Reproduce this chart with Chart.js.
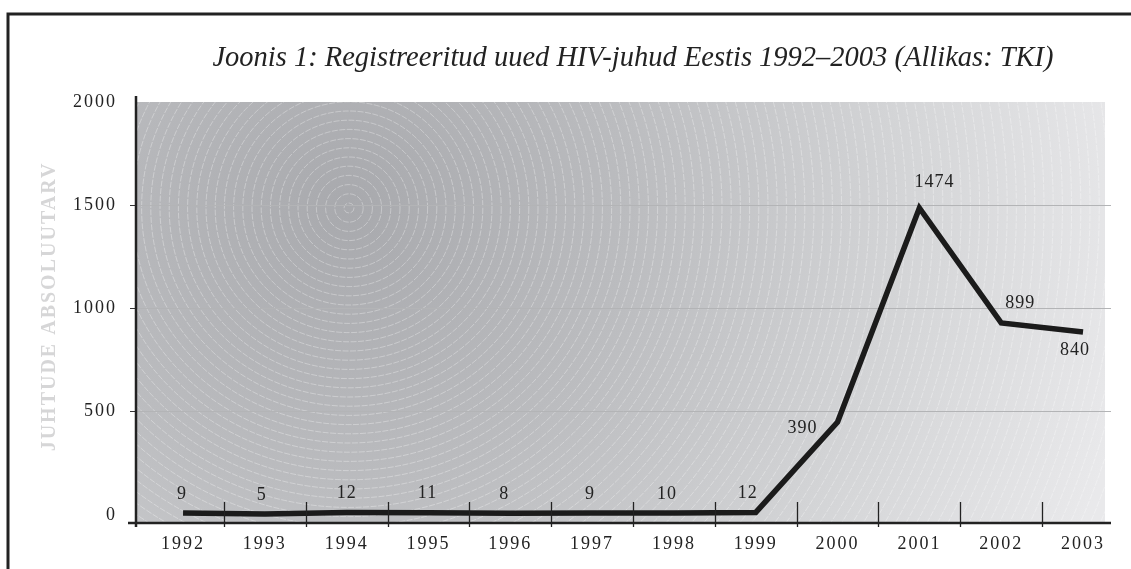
<!DOCTYPE html>
<html>
<head>
<meta charset="utf-8">
<script src="https://cdn.jsdelivr.net/npm/chart.js@4.4.1/dist/chart.umd.min.js"></script>
<style>
  html, body { margin: 0; padding: 0; background: #fff; }
  #wrap { width: 1131px; height: 569px; position: relative; }
</style>
</head>
<body>
<div id="wrap"><canvas id="hiv"></canvas></div>
<script>
const years = [1992, 1993, 1994, 1995, 1996, 1997, 1998, 1999, 2000, 2001, 2002, 2003]
// values as the line is drawn in the figure
const lineValues = [9, 5, 12, 11, 8, 9, 10, 12, 450, 1487, 930, 886]
// numbers printed next to the line
const printedValues = ['9', '5', '12', '11', '8', '9', '10', '12', '390', '1474', '899', '840']
const yTicks = [0, 500, 1000, 1500, 2000]

const titleText = 'Joonis 1: Registreeritud uued HIV-juhud Eestis 1992–2003 (Allikas: TKI)'
const yTitleText = 'JUHTUDE ABSOLUUTARV'

// label placement relative to the point, px
const labelOffsets = [
  [-1, -19], [-3, -19], [0, -19], [-1, -19], [-6, -19], [-2, -19],
  [-7, -19], [-8, -19], [-35, 6], [15, -26], [19, -20], [-8, 18]
]

const SERIF = '"Liberation Serif", "Times New Roman", serif'
const INK = '#222'

const backdrop = {
  id: 'backdrop',
  beforeDraw (chart) {
    const { ctx, chartArea: a } = chart
    ctx.save()
    ctx.fillStyle = '#fff'
    ctx.fillRect(0, 0, chart.width, chart.height)
    const cx = a.left + 213
    const cy = a.top + 106
    const g = ctx.createRadialGradient(cx, cy, 0, cx, cy, 800)
    g.addColorStop(0, '#a8a9ad')
    g.addColorStop(0.35, '#bbbcbf')
    g.addColorStop(0.7, '#d4d5d7')
    g.addColorStop(1, '#e9e9eb')
    ctx.fillStyle = g
    ctx.beginPath()
    ctx.rect(a.left, a.top, a.right - 6 - a.left, a.bottom - a.top)
    ctx.fill()
    ctx.clip()
    ctx.strokeStyle = 'rgba(255,255,255,0.4)'
    ctx.lineWidth = 0.8
    ctx.setLineDash([6, 1.5])
    for (let r = 5; r < 1000; r += 9.2) {
      ctx.beginPath()
      ctx.arc(cx, cy, r, 0, Math.PI * 2)
      ctx.stroke()
    }
    ctx.restore()
    ctx.letterSpacing = '2px'
  },
  afterDatasetsDraw (chart) {
    const { ctx } = chart
    const x = chart.scales.x
    const y = chart.scales.y
    ctx.save()
    ctx.letterSpacing = '1px'
    ctx.font = '18px ' + SERIF
    ctx.fillStyle = INK
    ctx.textAlign = 'center'
    ctx.textBaseline = 'middle'
    years.forEach((yr, i) => {
      const px = x.getPixelForValue(yr) + labelOffsets[i][0]
      const py = y.getPixelForValue(lineValues[i]) + labelOffsets[i][1]
      ctx.fillText(printedValues[i], px, py)
    })
    ctx.restore()
  },
  afterDraw (chart) {
    const { ctx, chartArea: a } = chart
    const x = chart.scales.x
    ctx.save()
    ctx.letterSpacing = '0px'
    ctx.strokeStyle = INK
    // axes
    ctx.lineWidth = 2.5
    ctx.beginPath()
    ctx.moveTo(a.left, a.top - 6)
    ctx.lineTo(a.left, a.bottom + 4)
    ctx.moveTo(a.left - 8, a.bottom)
    ctx.lineTo(a.right, a.bottom)
    ctx.stroke()
    // category separators
    ctx.lineWidth = 1.3
    ctx.beginPath()
    years.slice(0, -1).forEach((yr) => {
      const px = Math.round(x.getPixelForValue(yr + 0.5)) + 0.5
      ctx.moveTo(px, a.bottom - 21)
      ctx.lineTo(px, a.bottom + 4)
    })
    ctx.stroke()
    // frame
    ctx.lineWidth = 3
    ctx.beginPath()
    ctx.moveTo(8, chart.height)
    ctx.lineTo(8, 14)
    ctx.lineTo(chart.width, 14)
    ctx.stroke()
    // title
    ctx.fillStyle = INK
    ctx.font = 'italic 28.5px ' + SERIF
    ctx.textAlign = 'center'
    ctx.textBaseline = 'alphabetic'
    ctx.fillText(titleText, 633, 66)
    // y axis title
    ctx.translate(50, (a.top + a.bottom) / 2 - 6)
    ctx.rotate(-Math.PI / 2)
    ctx.letterSpacing = '2px'
    ctx.font = 'bold 20px ' + SERIF
    ctx.fillStyle = '#d6d6d7'
    ctx.textBaseline = 'middle'
    ctx.fillText(yTitleText, 0, 0)
    ctx.restore()
  }
}

new Chart(document.getElementById('hiv'), {
  type: 'line',
  data: {
    datasets: [
      {
        data: years.map((yr, i) => ({ x: yr, y: lineValues[i] })),
        borderColor: '#1b1b1b',
        borderWidth: 5.5,
        borderJoinStyle: 'miter',
        borderCapStyle: 'butt',
        pointRadius: 0,
        tension: 0,
        fill: false
      }
    ]
  },
  plugins: [backdrop],
  options: {
    responsive: true,
    maintainAspectRatio: false,
    animation: false,
    events: [],
    layout: { padding: { top: 102, right: 20, left: 0, bottom: 0 } },
    plugins: {
      legend: { display: false },
      title: { display: false },
      tooltip: { enabled: false }
    },
    scales: {
      x: {
        type: 'linear',
        min: 1991.425,
        max: 2003.342,
        afterBuildTicks: (scale) => { scale.ticks = years.map((v) => ({ value: v })) },
        afterFit: (scale) => { scale.height = 46 },
        grid: { display: false, drawTicks: false },
        border: { display: false },
        ticks: {
          autoSkip: false,
          maxRotation: 0,
          padding: 10,
          color: INK,
          font: { family: SERIF, size: 18 },
          callback: (v) => String(v)
        }
      },
      y: {
        min: -39,
        max: 2000,
        afterBuildTicks: (scale) => { scale.ticks = yTicks.map((v) => ({ value: v })) },
        afterFit: (scale) => { scale.width = 136 },
        border: { display: false },
        grid: {
          lineWidth: 1,
          tickLength: 6,
          color: (c) => (c.tick && c.tick.value > 0 && c.tick.value < 2000 ? '#b3b4b6' : 'rgba(0,0,0,0)'),
          tickColor: (c) => (c.tick && c.tick.value > 0 && c.tick.value < 2000 ? '#333' : 'rgba(0,0,0,0)')
        },
        ticks: {
          padding: 13,
          color: INK,
          font: { family: SERIF, size: 18 },
          callback: (v) => String(v)
        }
      }
    }
  }
})
</script>
</body>
</html>
